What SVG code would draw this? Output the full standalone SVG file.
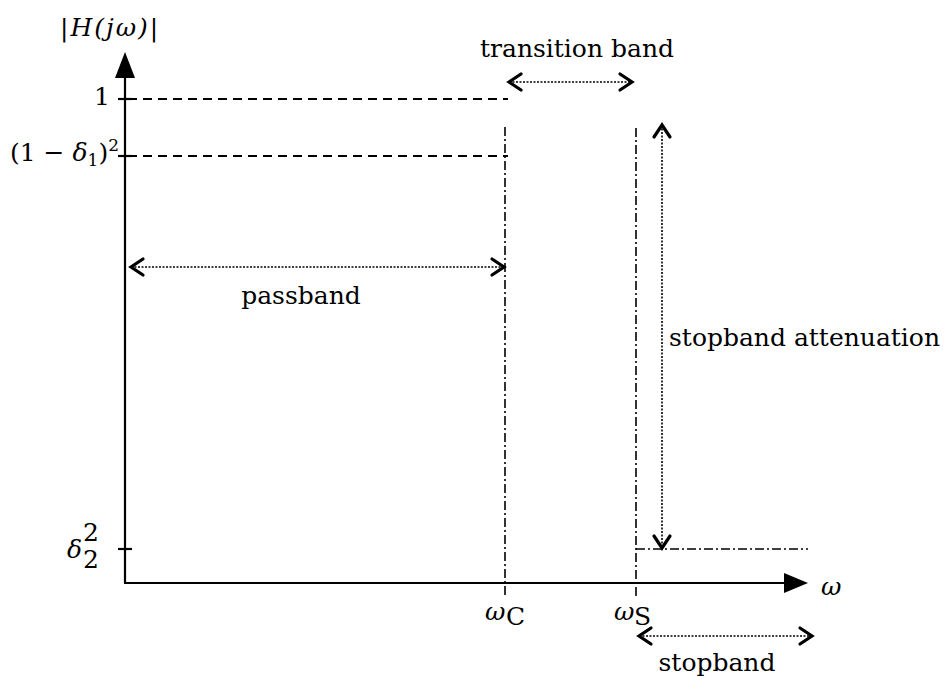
<svg xmlns="http://www.w3.org/2000/svg" width="945" height="677" viewBox="0 0 945 677">
<defs>
<style>
text{font-family:"DejaVu Serif","Liberation Serif",serif;fill:#000;font-size:25px}
.m{font-style:italic}
.axis{stroke:#000;stroke-width:2.2;fill:none}
.dash{stroke:#000;stroke-width:1.8;stroke-dasharray:9 6;fill:none}
.dd{stroke:#000;stroke-width:1.6;stroke-dasharray:9 3 2 3;fill:none}
.dot{stroke:#000;stroke-width:1.6;stroke-dasharray:2 1.5;fill:none}
.head{stroke:#000;stroke-width:3.2;fill:none;stroke-linecap:round;stroke-linejoin:miter}
</style>
</defs>
<g id="axes">
<line class="axis" x1="125" y1="583" x2="125" y2="72"/>
<polygon points="125,52 115,78 135,78" fill="#000"/>
<line class="axis" x1="124" y1="583" x2="790" y2="583"/>
<polygon points="808,583 784,573 784,593" fill="#000"/>
<line class="axis" x1="118" y1="99" x2="132" y2="99" stroke-width="1.6"/>
<line class="axis" x1="118" y1="156" x2="132" y2="156" stroke-width="1.6"/>
<line class="axis" x1="118" y1="549" x2="132" y2="549" stroke-width="1.6"/>
</g>
<g id="labels">
<text x="60" y="36" class="m" font-size="28" letter-spacing="2">|H(jω)|</text>
<text x="94" y="105">1</text>
<text x="10" y="161">(1 − <tspan class="m">δ</tspan><tspan font-size="17" dy="5">1</tspan><tspan dy="-5">)</tspan><tspan font-size="17" dy="-10">2</tspan></text>
<text x="67" y="558" class="m" font-size="26">δ</text>
<text x="83" y="541" font-size="16">2</text>
<text x="83" y="568" font-size="16">2</text>
<text x="485" y="620" class="m" font-size="27">ω</text>
<text x="506" y="625" font-size="17">C</text>
<text x="614" y="620" class="m" font-size="27">ω</text>
<text x="634" y="625" font-size="17">S</text>
<text x="821" y="595" class="m" font-size="27">ω</text>
</g>
<g id="guides">
<line class="dash" x1="128" y1="99" x2="508" y2="99"/>
<line class="dash" x1="128" y1="156" x2="508" y2="156"/>
<line class="dd" x1="505" y1="127" x2="505" y2="598"/>
<line class="dd" x1="636" y1="128" x2="636" y2="598"/>
<line class="dd" x1="636" y1="549" x2="808" y2="549"/>
</g>
<g id="passband">
<line class="dot" x1="131" y1="267" x2="504" y2="267"/>
<polyline class="head" points="143,259 131,267 143,275"/>
<polyline class="head" points="492,259 504,267 492,275"/>
<text x="301" y="304" text-anchor="middle">passband</text>
</g>
<g id="transition">
<line class="dot" x1="509" y1="82" x2="632" y2="82"/>
<polyline class="head" points="521,74 509,82 521,90"/>
<polyline class="head" points="620,74 632,82 620,90"/>
<text x="577" y="57" text-anchor="middle">transition band</text>
</g>
<g id="attenuation">
<line class="dot" x1="662" y1="125" x2="662" y2="548"/>
<polyline class="head" points="654,137 662,125 670,137"/>
<polyline class="head" points="654,536 662,548 670,536"/>
<text x="669" y="346">stopband attenuation</text>
</g>
<g id="stopband">
<line class="dot" x1="639" y1="636" x2="812" y2="636"/>
<polyline class="head" points="651,628 639,636 651,644"/>
<polyline class="head" points="800,628 812,636 800,644"/>
<text x="717" y="671" text-anchor="middle">stopband</text>
</g>
</svg>
